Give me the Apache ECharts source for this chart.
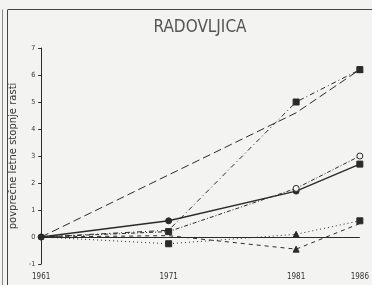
<!DOCTYPE html>
<html>
<head>
<meta charset="utf-8">
<script src="https://cdn.jsdelivr.net/npm/echarts@6/dist/echarts.min.js"></script>
<style>
  html, body { margin: 0; padding: 0; background: #f3f3f1; }
  #chart { width: 372px; height: 285px; }
</style>
</head>
<body>
<div id="chart"></div>
<script>
// years and growth rates
var years = [1961, 1971, 1981, 1986];
var tickYears = [1961, 1971, 1981, 1986];
var longDash = [0, 2.3, 4.6, 6.2];
var steepDashDot = [0, 0.25, 5.0, 6.2];
var solidLine = [0, 0.6, 1.7, 2.7];
var openCircle = [0, 0.2, 1.8, 3.0];
var dotted = [0, -0.25, 0.1, 0.6];
var shortDash = [0, 0.05, -0.45, 0.5];

var ink = '#2a2a2a';
var paper = '#f3f3f1';

// marks: one symbol per point ('' = no marker there)
function pairs(vals, marks) {
  var out = [];
  for (var i = 0; i < years.length; i++) {
    var m = marks[i];
    out.push({
      value: [years[i], vals[i]],
      symbol: m ? m.s : 'circle',
      symbolSize: m ? m.size : 0,
      itemStyle: m && m.open ? { color: paper } : undefined
    });
  }
  return out;
}

function line(name, vals, marks, type, width) {
  return {
    name: name,
    type: 'line',
    data: pairs(vals, marks),
    showSymbol: true,
    lineStyle: { color: ink, width: width, type: type },
    itemStyle: { color: ink, borderColor: ink, borderWidth: 1 },
    z: 3
  };
}

var sq = { s: 'rect', size: 6 };
var dot = { s: 'circle', size: 6 };
var ring = { s: 'circle', size: 6, open: true };
var tri = { s: 'triangle', size: 6 };

var chart = echarts.init(document.getElementById('chart'));

chart.setOption({
  animation: false,
  backgroundColor: paper,
  title: {
    text: 'RADOVLJICA',
    left: 195,
    textAlign: 'center',
    top: 14,
    textStyle: { color: '#555', fontSize: 17, fontWeight: 'normal', fontFamily: 'DejaVu Sans Condensed' }
  },
  grid: { left: 38, right: 8, top: 48, bottom: 21 },
  xAxis: {
    type: 'value',
    min: 1961,
    max: 1986,
    axisLine: { show: false },
    axisTick: { show: false },
    splitLine: { show: false },
    axisLabel: {
      customValues: tickYears,
      color: '#333',
      fontSize: 8,
      fontFamily: 'DejaVu Sans Condensed',
      margin: 9,
      formatter: function (v) { return String(v); }
    }
  },
  yAxis: {
    type: 'value',
    min: -1,
    max: 7,
    interval: 1,
    name: 'povprečne letne stopnje rasti',
    nameLocation: 'middle',
    nameRotate: 90,
    nameGap: 12,
    nameTextStyle: { color: '#333', fontSize: 10, fontFamily: 'DejaVu Sans' },
    axisLine: { show: true, onZero: false, lineStyle: { color: ink, width: 1 } },
    axisTick: { show: true, length: 3, lineStyle: { color: ink } },
    splitLine: { show: false },
    axisLabel: { color: '#333', fontSize: 7, fontFamily: 'DejaVu Sans Condensed', margin: 6 }
  },
  graphic: [
    { type: 'line', shape: { x1: 8, y1: 9.5, x2: 372, y2: 9.5 }, style: { stroke: '#444', lineWidth: 1 } },
    { type: 'line', shape: { x1: 2.5, y1: 9.5, x2: 2.5, y2: 285 }, style: { stroke: '#888', lineWidth: 1 } },
    { type: 'line', shape: { x1: 7.5, y1: 9.5, x2: 7.5, y2: 285 }, style: { stroke: '#444', lineWidth: 1 } }
  ],
  series: [
    {
      name: 'zero',
      type: 'line',
      data: [],
      markLine: {
        silent: true,
        symbol: 'none',
        label: { show: false },
        lineStyle: { color: ink, type: 'solid', width: 1.2 },
        data: [{ yAxis: 0 }]
      }
    },
    line('long dash', longDash, [dot, null, null, tri], [8, 4], 1),
    line('dash dot', steepDashDot, [null, null, sq, sq], [5, 3, 1, 3], 1),
    line('solid', solidLine, [dot, dot, dot, sq], 'solid', 1.4),
    line('open circle', openCircle, [null, sq, ring, ring], [4, 2, 1, 2], 1),
    line('dotted', dotted, [null, sq, tri, sq], [1, 3], 1),
    line('short dash', shortDash, [null, null, tri, null], [4, 4], 1)
  ]
});
</script>
</body>
</html>
